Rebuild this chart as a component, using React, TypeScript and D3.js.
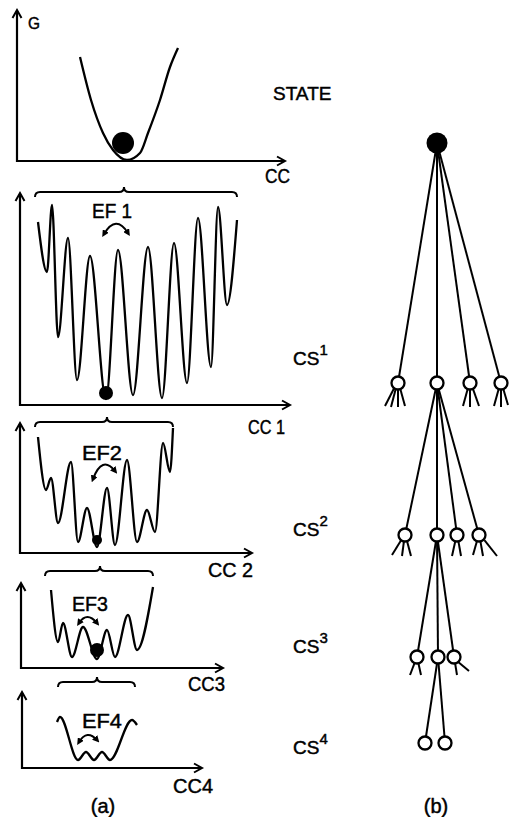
import React from "react";
import * as d3 from "d3";

type Pt = [number, number];

// energy profiles, [CC, G] measured from each panel's own origin
const stateProfile: Pt[] = [[63, 104], [74, 61], [86, 28], [96, 11], [110, 1], [123, 8], [131, 28], [143, 61], [153, 94], [161, 113]];
const cs1Profile: Pt[] = [[18, 183], [27, 133], [32, 200], [38, 68], [48, 167], [57, 25], [70, 149], [86, 6], [98, 155], [113, 10], [128, 158], [142, 7], [154, 162], [167, 22], [178, 187], [191, 38], [198, 198], [207, 100], [217, 185]];
const cs2Profile: Pt[] = [[18, 116], [26, 63], [31, 75], [38, 30], [51, 91], [58, 11], [67, 45], [77, 6], [87, 65], [95, 8], [107, 93], [117, 11], [127, 43], [135, 21], [143, 110], [150, 81], [153, 125]];
const cs3Profile: Pt[] = [[30, 78], [37, 26], [42, 45], [51, 11], [62, 41], [76, 9], [86, 38], [94, 11], [107, 53], [116, 18], [132, 81]];
const cs4Profile: Pt[] = [[35, 46], [38, 51], [56, 8], [64, 16], [72, 8], [80, 16], [88, 8], [110, 48], [115, 43]];

// where the system sits (CC, G), null = no ball drawn
const balls: (Pt | null)[] = [[106, 18], [86, 12], [77, 13], [76, 18], null];

// braces: [from, tip, to, G level] over the wells that open up a level down
const braces: ([number, number, number, number] | null)[] = [null, [15, 104, 217, 213], [15, 87, 153, 131], [24, 79, 132, 97], [36, 75, 113, 86]];

const axisLabels = ["CC", "CC 1", "CC 2", "CC3", "CC4"];
const efLabels = ["", "EF 1", "EF2", "EF3", "EF4"];
const tierNames = ["STATE", "CS", "CS", "CS", "CS"];
const tierSup = ["", "1", "2", "3", "4"];

// tree (b): horizontal offsets of the children, relative to their parent
const level1Offsets = [-39, 0, 33, 64];
const level2Offsets = [-32, 0, 20, 42];
const level3Offsets = [-20, 1, 17];
const level4Offsets = [-13, 7];
const branchingChild = 1;

// short leaf stubs [dx, dy] under the nodes that are not expanded
const level1Stubs: Pt[][] = [[[-13, 23], [-7, 24], [0, 24], [7, 23]], [], [[-7, 23], [0, 24], [9, 23]], [[-7, 23], [0, 24], [7, 22]]];
const level2Stubs: Pt[][] = [[[-13, 20], [-3, 21], [6, 21]], [], [[-5, 21], [4, 21]], [[-6, 20], [4, 21], [18, 21]]];
const level3Stubs: Pt[][] = [[[-7, 18], [4, 18]], [], [[3, 18], [15, 14]]];

const FONT = "'Liberation Sans', Arial, Helvetica, sans-serif";

const panels = [
  { ox: 17, oy: 161, w: 268, h: 151, profile: stateProfile, ballR: 11, lab: [265, 183, 25], ef: null, arrow: null, tier: [273, 100] },
  { ox: 20, oy: 405, w: 270, h: 212, profile: cs1Profile, ballR: 7, lab: [248, 434, 37], ef: [92, 218, 40], arrow: [[104, 234], [116, 214], [128, 233]], tier: [293, 365] },
  { ox: 20, oy: 553, w: 232, h: 130, profile: cs2Profile, ballR: 5, lab: [208, 577, 45], ef: [82, 460, 40], arrow: [[93, 479], [102, 455], [115, 471]], tier: [293, 536] },
  { ox: 21, oy: 668, w: 202, h: 85, profile: cs3Profile, ballR: 7, lab: [188, 691, 37], ef: [72, 611, 36], arrow: [[79, 623], [87, 611], [97, 623]], tier: [293, 653] },
  { ox: 22, oy: 768, w: 180, h: 76, profile: cs4Profile, ballR: 0, lab: [173, 793, 40], ef: [82, 728, 40], arrow: [[79, 742], [87, 729], [97, 740]], tier: [293, 754] },
];

const levelY = [143, 383, 535, 657, 743];

const textInk = { fill: "#000", stroke: "#000", strokeWidth: 0.45 };

function bracePath(x0: number, xm: number, x1: number, y: number) {
  const r = 5;
  return `M${x0},${y + r} Q${x0},${y} ${x0 + r},${y} L${xm - r},${y} Q${xm},${y} ${xm},${y - r} Q${xm},${y} ${xm + r},${y} L${x1 - r},${y} Q${x1},${y} ${x1},${y + r}`;
}

function Panel({ i }: { i: number }) {
  const p = panels[i];
  const x = d3.scaleLinear().domain([0, p.w]).range([p.ox, p.ox + p.w]);
  const y = d3.scaleLinear().domain([0, p.h]).range([p.oy, p.oy - p.h]);
  const line = d3.line<Pt>().x((d) => x(d[0])).y((d) => y(d[1])).curve(d3.curveMonotoneX);
  const ball = balls[i];
  const brace = braces[i];
  const top = y(p.h);
  const right = x(p.w);
  return (
    <g>
      {/* axes */}
      <path d={`M${x(0)},${top + 1} L${x(0)},${y(0)} L${right - 1},${y(0)}`} fill="none" stroke="#000" strokeWidth={2.2} />
      <path d={`M${x(0) - 4.5},${top + 8} L${x(0)},${top} L${x(0) + 4.5},${top + 8}`} fill="none" stroke="#000" strokeWidth={2} />
      <path d={`M${right - 8},${y(0) - 4.5} L${right},${y(0)} L${right - 8},${y(0) + 4.5}`} fill="none" stroke="#000" strokeWidth={2} />
      {i === 0 && (
        <text x={28} y={29} fontSize={17} fontFamily={FONT} textLength={12} lengthAdjust="spacingAndGlyphs" {...textInk}>G</text>
      )}
      <text x={p.lab[0]} y={p.lab[1]} fontSize={20} fontFamily={FONT} textLength={p.lab[2]} lengthAdjust="spacingAndGlyphs" {...textInk}>
        {axisLabels[i]}
      </text>
      {/* landscape */}
      <path d={line(p.profile) ?? ""} fill="none" stroke="#000" strokeWidth={2.3} strokeLinejoin="round" />
      {ball && <circle cx={x(ball[0])} cy={y(ball[1])} r={p.ballR} fill="#000" />}
      {brace && (
        <path d={bracePath(x(brace[0]), x(brace[1]), x(brace[2]), y(brace[3]))} fill="none" stroke="#000" strokeWidth={2} />
      )}
      {p.ef && (
        <text x={p.ef[0]} y={p.ef[1]} fontSize={21} fontFamily={FONT} textLength={p.ef[2]} lengthAdjust="spacingAndGlyphs" {...textInk}>
          {efLabels[i]}
        </text>
      )}
      {p.arrow && (
        <path
          d={`M${p.arrow[0][0]},${p.arrow[0][1]} Q${p.arrow[1][0]},${p.arrow[1][1]} ${p.arrow[2][0]},${p.arrow[2][1]}`}
          fill="none"
          stroke="#000"
          strokeWidth={2}
          markerStart="url(#ah)"
          markerEnd="url(#ah)"
        />
      )}
      <text x={p.tier[0]} y={p.tier[1]} fontSize={19} fontFamily={FONT} {...textInk}>
        {tierNames[i]}
        {tierSup[i] && (
          <tspan dy={-10} fontSize={15}>
            {tierSup[i]}
          </tspan>
        )}
      </text>
    </g>
  );
}

function Tree() {
  const x = d3.scaleLinear().domain([0, 100]).range([437, 537]);
  const y = d3.scaleOrdinal<number, number>().domain([0, 1, 2, 3, 4]).range(levelY);
  const levels = [level1Offsets, level2Offsets, level3Offsets, level4Offsets];
  const stubs = [level1Stubs, level2Stubs, level3Stubs, []];
  const edges: { x1: number; y1: number; x2: number; y2: number }[] = [];
  const nodes: { cx: number; cy: number }[] = [];
  const legs: { x1: number; y1: number; x2: number; y2: number }[] = [];
  const r = 6.5;
  let parent = 0;
  levels.forEach((offs, li) => {
    offs.forEach((o, ci) => {
      const cx = x(parent + o);
      const cy = y(li + 1);
      edges.push({ x1: x(parent), y1: y(li), x2: cx, y2: cy });
      nodes.push({ cx, cy });
      const st = stubs[li][ci] || [];
      st.forEach(([dx, dy]) => {
        legs.push({ x1: cx + dx * 0.3, y1: cy + r * 0.8, x2: cx + dx, y2: cy + dy });
      });
    });
    if (li < 3) parent = parent + offs[branchingChild];
  });
  return (
    <g>
      {edges.map((e, k) => (
        <line key={k} {...e} stroke="#000" strokeWidth={2} />
      ))}
      {legs.map((e, k) => (
        <line key={"l" + k} {...e} stroke="#000" strokeWidth={2} />
      ))}
      <circle cx={x(0)} cy={y(0)} r={10.5} fill="#000" />
      {nodes.map((n, k) => (
        <circle key={k} cx={n.cx} cy={n.cy} r={r} fill="#fff" stroke="#000" strokeWidth={2.3} />
      ))}
    </g>
  );
}

export default function App() {
  return (
    <svg
      width={511}
      height={817}
      viewBox="0 0 511 817"
      style={{ position: "absolute", left: 0, top: 0, background: "#fff" }}
    >
      <defs>
        <marker id="ah" viewBox="0 0 10 10" refX={5} refY={5} markerWidth={7} markerHeight={7} markerUnits="userSpaceOnUse" orient="auto-start-reverse">
          <path d="M0,0 L10,5 L0,10 Z" fill="#000" />
        </marker>
      </defs>
      {panels.map((_, i) => (
        <Panel key={i} i={i} />
      ))}
      <Tree />
      <text x={103} y={813} fontSize={20} fontFamily={FONT} textAnchor="middle" {...textInk}>(a)</text>
      <text x={436} y={813} fontSize={20} fontFamily={FONT} textAnchor="middle" {...textInk}>(b)</text>
    </svg>
  );
}
